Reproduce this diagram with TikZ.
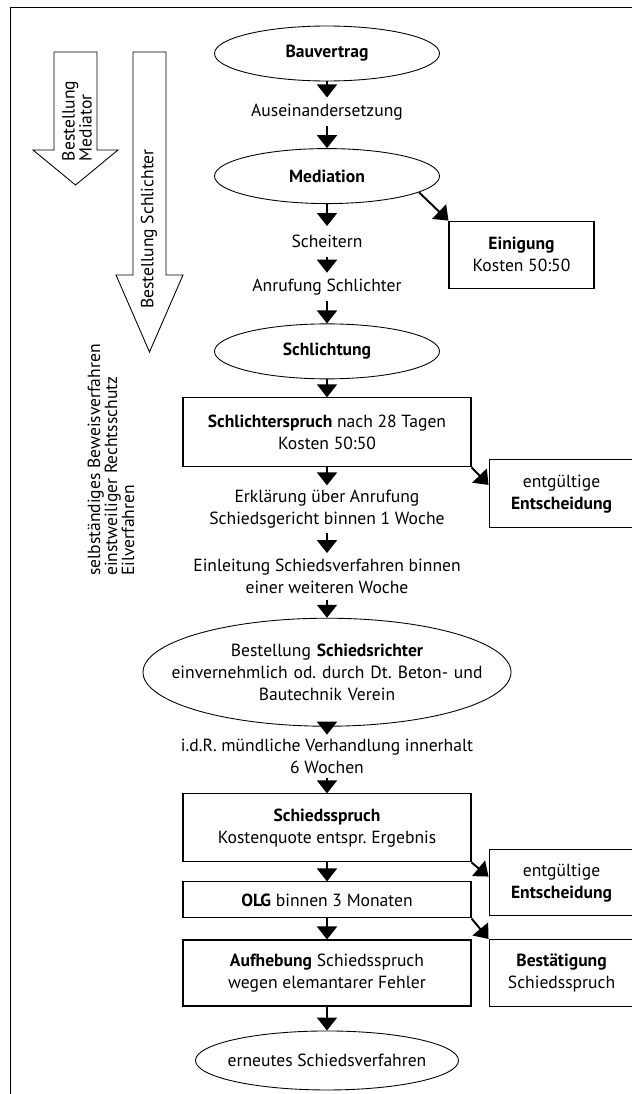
\documentclass[tikz,border=0pt]{standalone}
\usepackage{fontspec}
\setmainfont{PT Sans}
\frenchspacing
\usetikzlibrary{shapes.geometric, arrows.meta, positioning}
\tikzset{
  oval/.style = {ellipse, draw=black, line width=0.5pt, minimum width=45mm, minimum height=11mm, inner xsep=-2mm, inner ysep=0pt, align=center},
  box/.style = {rectangle, draw=black, line width=0.6pt, minimum width=57.6mm, align=center, inner sep=2pt},
  sidebox/.style = {rectangle, draw=black, line width=0.6pt, minimum width=29mm, minimum height=13.4mm, align=center, inner sep=2pt},
  txt/.style = {inner sep=0pt, align=center},
  connector/.style = {line width=1.1pt, -{Triangle[length=2.6mm, width=4mm]}},
  bigarrow/.style = {draw=black, line width=0.5pt},
  sidetext/.style = {rotate=90, align=left, inner sep=0pt, font=\fontsize{10pt}{9.7pt}\selectfont}
}

\begin{document}
\begin{tikzpicture}[x=0.2mm, y=-0.2mm, every node/.style={font=\fontsize{10pt}{12.5pt}\selectfont}]
  \useasboundingbox (0,0) rectangle (632,1094);
  \clip (0,0) rectangle (632,1094);

  % frame
  \draw[line width=0.4pt] (10,1094) -- (10,7) -- (632,7);

  % main column
  \node (bau) [oval] at (327,53.5) {\textbf{Bauvertrag}};
  \node (streit) [txt, minimum height=5.6mm, below=3.2mm of bau] {Auseinandersetzung};
  \node (med) [oval, below=4.4mm of streit] {\textbf{Mediation}};
  \node (scheitern) [txt, minimum height=6mm, below=4.4mm of med] {Scheitern};
  \node (anruf) [txt, minimum height=5.6mm, below=3.2mm of scheitern] {Anrufung Schlichter};
  \node (schlicht) [oval, below=4.4mm of anruf] {\textbf{Schlichtung}};
  \node (spruch) [box, minimum height=13.8mm, below=3.6mm of schlicht] {\textbf{Schlichterspruch} nach 28 Tagen\\Kosten 50:50};
  \node (erkl) [txt, minimum height=9.4mm, below=3.6mm of spruch] {Erklärung über Anrufung\\Schiedsgericht binnen 1 Woche};
  \node (einl) [txt, minimum height=9.2mm, below=4mm of erkl] {Einleitung Schiedsverfahren binnen\\einer weiteren Woche};
  \node (richter) [oval, minimum width=73.6mm, minimum height=21.6mm, text width=66mm, inner xsep=-7mm, below=3.6mm of einl] {Bestellung \textbf{Schiedsrichter}\\einvernehmlich od. durch Dt. Beton- und\\Bautechnik Verein};
  \node (verhandlung) [txt, minimum height=8.6mm, below=1.6mm of richter] {i.d.R. mündliche Verhandlung innerhalt\\6 Wochen};
  \node (sspruch) [box, minimum height=13.6mm, below=3mm of verhandlung] {\textbf{Schiedsspruch}\\Kostenquote entspr. Ergebnis};
  \node (olg) [box, minimum height=7.2mm, below=3.8mm of sspruch] {\textbf{OLG} binnen 3 Monaten};
  \node (aufh) [box, minimum height=13.2mm, below=4.2mm of olg] {\textbf{Aufhebung} Schiedsspruch\\wegen elemantarer Fehler};
  \node (neu) [oval, minimum width=52.6mm, minimum height=11.8mm, below=4.8mm of aufh] {erneutes Schiedsverfahren};

  % side results
  \node (einig) [sidebox, below right=8.9mm and 1.7mm of med.east] {\textbf{Einigung}\\Kosten 50:50};
  \node (endg1) [sidebox, minimum height=13.6mm, below right=-1.6mm and 3.4mm of spruch] {entgültige\\\textbf{Entscheidung}};
  \node (endg2) [sidebox, minimum height=13.2mm, below right=-2.6mm and 3.4mm of sspruch] {entgültige\\\textbf{Entscheidung}};
  \node (best) [sidebox, right=3.4mm of aufh] {\textbf{Bestätigung}\\Schiedsspruch};

  % big arrows on the left
  \draw[bigarrow] (54,52) -- (97,52) -- (97,150) -- (118,150) -- (75.5,185) -- (33,150) -- (54,150) -- cycle;
  \draw[bigarrow] (133,52) -- (166,52) -- (166,275) -- (183,275) -- (149.5,352) -- (116,275) -- (133,275) -- cycle;
  \node (bmed) [sidetext] at (77,121) {Bestellung\\Mediator};
  \node (bschl) [sidetext] at (149,229) {Bestellung Schlichter};
  \node (eil) [sidetext] at (111,460) {selbständiges Beweisverfahren\\einstweiliger Rechtsschutz\\Eilverfahren};

  % connections
  \draw[connector] (bau) -- (streit);
  \draw[connector] (streit) -- (med);
  \draw[connector] (med) -- (scheitern);
  \draw[connector] (scheitern) -- (anruf);
  \draw[connector] (anruf) -- (schlicht);
  \draw[connector] (schlicht) -- (spruch);
  \draw[connector] (spruch) -- (erkl);
  \draw[connector] (erkl) -- (einl);
  \draw[connector] (einl) -- (richter);
  \draw[connector] (richter) -- (verhandlung);
  \draw[connector] (verhandlung) -- (sspruch);
  \draw[connector] (sspruch) -- (olg);
  \draw[connector] (olg) -- (aufh);
  \draw[connector] (aufh) -- (neu);

  % side branches
  \draw[connector] (med.-10) -- (einig.north west);
  \draw[connector] (spruch.south east) -- (endg1.173);
  \draw[connector] (sspruch.south east) -- (endg2.175);
  \draw[connector] (olg.south east) -- (best.north west);

\end{tikzpicture}
\end{document}
